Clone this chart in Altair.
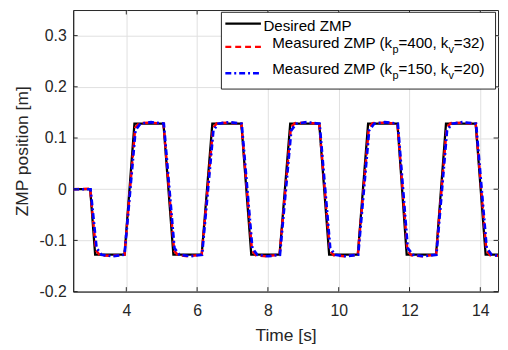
import altair as alt
import pandas as pd

# ---- data ----
t_desired = [2.5, 2.98, 3.12, 3.95, 4.23, 5.05, 5.33, 6.13, 6.43, 7.25, 7.53, 8.33,
             8.63, 9.45, 9.73, 10.54, 10.83, 11.66, 11.92, 12.75, 13.03, 13.87, 14.15, 14.5]
z_desired = [0.0, 0.0, -0.128, -0.128, 0.128, 0.128, -0.128, -0.128, 0.128, 0.128, -0.128, -0.128,
             0.128, 0.128, -0.128, -0.128, 0.128, 0.128, -0.128, -0.128, 0.128, 0.128, -0.128, -0.128]

t_kp400 = [2.5, 2.98, 3.14, 3.25, 3.55, 3.95,
           4.25, 4.36, 4.65, 5.05,
           5.35, 5.46, 5.75, 6.13,
           6.45, 6.56, 6.85, 7.25,
           7.55, 7.66, 7.95, 8.33,
           8.65, 8.76, 9.05, 9.45,
           9.75, 9.86, 10.15, 10.54,
           10.85, 10.96, 11.25, 11.66,
           11.94, 12.05, 12.35, 12.75,
           13.05, 13.16, 13.45, 13.87,
           14.17, 14.28, 14.5]
z_kp400 = [0.0, 0.001, -0.119, -0.129, -0.130, -0.128,
           0.120, 0.129, 0.130, 0.128,
           -0.120, -0.129, -0.131, -0.128,
           0.120, 0.129, 0.130, 0.128,
           -0.120, -0.129, -0.131, -0.128,
           0.121, 0.129, 0.130, 0.128,
           -0.120, -0.129, -0.131, -0.128,
           0.120, 0.129, 0.130, 0.128,
           -0.120, -0.129, -0.131, -0.128,
           0.120, 0.129, 0.130, 0.128,
           -0.120, -0.129, -0.130]

t_kp150 = [2.5, 2.99, 3.16, 3.30, 3.6, 3.95,
           4.26, 4.40, 4.7, 5.06,
           5.36, 5.50, 5.8, 6.14,
           6.46, 6.60, 6.9, 7.26,
           7.56, 7.70, 8.0, 8.34,
           8.66, 8.80, 9.1, 9.46,
           9.76, 9.90, 10.2, 10.55,
           10.86, 11.00, 11.3, 11.67,
           11.95, 12.09, 12.4, 12.76,
           13.06, 13.20, 13.5, 13.88,
           14.18, 14.32, 14.5]
z_kp150 = [0.0, 0.0, -0.115, -0.128, -0.131, -0.128,
           0.115, 0.128, 0.131, 0.128,
           -0.115, -0.128, -0.131, -0.128,
           0.115, 0.128, 0.131, 0.128,
           -0.115, -0.128, -0.131, -0.128,
           0.115, 0.128, 0.131, 0.128,
           -0.115, -0.128, -0.131, -0.128,
           0.115, 0.128, 0.131, 0.128,
           -0.115, -0.128, -0.131, -0.128,
           0.115, 0.128, 0.131, 0.128,
           -0.115, -0.128, -0.130]

x_ticks = [4, 6, 8, 10, 12, 14]
y_ticks = [-0.2, -0.1, 0.0, 0.1, 0.2, 0.3]

x_title = "Time [s]"
y_title = "ZMP position [m]"

# ---- chart ----
W, H = 430, 285
FONT = "Liberation Sans"
AX = "#262626"

xs = alt.Scale(domain=[2.5, 14.5], nice=False, zero=False)
ys = alt.Scale(domain=[-0.2, 0.35], nice=False, zero=False)

x_axis = alt.Axis(values=x_ticks, title=x_title, grid=True, ticks=False, tickSize=0,
                  labelPadding=11, titleBaseline="alphabetic", titleY=49.6)
y_axis = alt.Axis(values=y_ticks, title=y_title, grid=True, ticks=False, tickSize=0,
                  labelPadding=7, titleBaseline="alphabetic", titleX=-46,
                  labelExpr="abs(datum.value) < 1e-9 ? '0' : (datum.value < 0 ? '-' + format(-datum.value, '.1f') : format(datum.value, '.1f'))")

df_d = pd.DataFrame({"t": t_desired, "z": z_desired})
df_r = pd.DataFrame({"t": t_kp400, "z": z_kp400})
df_b = pd.DataFrame({"t": t_kp150, "z": z_kp150})

base_x = alt.X("t:Q", scale=xs, axis=x_axis)
base_y = alt.Y("z:Q", scale=ys, axis=y_axis)

desired = alt.Chart(df_d).mark_line(color="black", strokeWidth=2.3, clip=True).encode(
    x=base_x, y=base_y)
red = alt.Chart(df_r).mark_line(color="#ff0000", strokeWidth=2.5, strokeDash=[6, 4], clip=True).encode(
    x=alt.X("t:Q", scale=xs), y=alt.Y("z:Q", scale=ys))
blue = alt.Chart(df_b).mark_line(color="#0000ff", strokeWidth=2.7, strokeDash=[6, 3, 2, 3], clip=True).encode(
    x=alt.X("t:Q", scale=xs), y=alt.Y("z:Q", scale=ys))

# inward tick marks on all four sides
df_xt = pd.DataFrame({"t": x_ticks})
df_yt = pd.DataFrame({"z": y_ticks})
xt_bot = alt.Chart(df_xt).mark_rule(color=AX, strokeWidth=1).encode(
    x=alt.X("t:Q", scale=xs), y=alt.value(H), y2=alt.value(H - 4.5))
xt_top = alt.Chart(df_xt).mark_rule(color=AX, strokeWidth=1).encode(
    x=alt.X("t:Q", scale=xs), y=alt.value(0), y2=alt.value(4.5))
yt_left = alt.Chart(df_yt).mark_rule(color=AX, strokeWidth=1).encode(
    y=alt.Y("z:Q", scale=ys), x=alt.value(0), x2=alt.value(4.5))
yt_right = alt.Chart(df_yt).mark_rule(color=AX, strokeWidth=1).encode(
    y=alt.Y("z:Q", scale=ys), x=alt.value(W), x2=alt.value(W - 4.5))

# ---- legend (drawn by hand for the subscripts) ----
one = alt.Data(values=[{"k": 0}])
leg_box = alt.Chart(one).mark_rect(fill="white", stroke=AX, strokeWidth=1).encode(
    x=alt.value(150), x2=alt.value(427.5), y=alt.value(2.3), y2=alt.value(80))
leg_k = alt.Chart(one).mark_rule(color="black", strokeWidth=2.3).encode(
    x=alt.value(154), x2=alt.value(190), y=alt.value(13.7))
leg_r = alt.Chart(one).mark_rule(color="#ff0000", strokeWidth=2.5, strokeDash=[6, 4]).encode(
    x=alt.value(154), x2=alt.value(190), y=alt.value(37.3))
leg_b = alt.Chart(one).mark_rule(color="#0000ff", strokeWidth=2.7, strokeDash=[6, 3, 2, 3]).encode(
    x=alt.value(154), x2=alt.value(190), y=alt.value(64))

MAIN, SUB, DSUB = 15.3, 11, 5.0


def txt(s, x, y, size):
    return alt.Chart(one).mark_text(align="left", baseline="alphabetic", font=FONT,
                                    fontSize=size, color="black").encode(
        x=alt.value(x), y=alt.value(y), text=alt.value(s))


legend_texts = [txt("Desired ZMP", 192.5, 21.3, MAIN)]
for yb, kp, kv in [(38.0, "=400, k", "=32)"), (64.7, "=150, k", "=20)")]:
    x0 = 201.5
    legend_texts += [
        txt("Measured ZMP (k", x0, yb, MAIN),
        txt("p", x0 + 121.6, yb + DSUB, SUB),
        txt(kp, x0 + 127.7, yb, MAIN),
        txt("v", x0 + 178.3, yb + DSUB, SUB),
        txt(kv, x0 + 183.8, yb, MAIN),
    ]

chart = alt.layer(
    desired, red, blue, xt_bot, xt_top, yt_left, yt_right,
    leg_box, leg_k, leg_r, leg_b, *legend_texts
).properties(
    width=W, height=H,
    autosize=alt.AutoSizeParams(type="none"),
    padding={"left": 66, "top": 0, "right": 2, "bottom": 52},
).configure_view(
    stroke=AX, strokeWidth=1
).configure_axis(
    domainColor=AX, domainWidth=1, gridColor="#dfdfdf", gridWidth=1,
    labelFont=FONT, labelFontSize=16, labelColor=AX,
    titleFont=FONT, titleFontSize=17.6, titleFontWeight="normal", titleColor=AX,
)

chart.save("out.html", embed_options={"renderer": "svg", "actions": False})
